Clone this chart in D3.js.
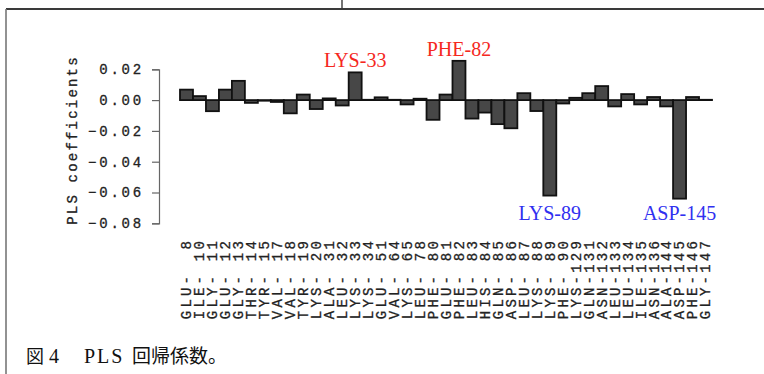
<!DOCTYPE html>
<html><head><meta charset="utf-8">
<script src="https://cdn.jsdelivr.net/npm/d3@7"></script>
<style>html,body{margin:0;padding:0;background:#fff;} svg{display:block}</style>
</head><body><svg id="c" width="764" height="374"></svg>
<script>
const residues = ["GLU-8","ILE-10","GLY-11","GLU-12","GLY-13","THR-14","TYR-15","VAL-17","VAL-18","TYR-19",
  "LYS-20","ALA-31","LEU-32","LYS-33","LYS-34","GLU-51","VAL-64","LYS-65","LEU-78","PHE-80",
  "GLU-81","PHE-82","LEU-83","HIS-84","GLN-85","ASP-86","LEU-87","LYS-88","LYS-89","PHE-90",
  "LYS-129","GLN-131","ASN-132","LEU-133","LEU-134","ILE-135","ASN-136","ALA-144","ASP-145","PHE-146","GLY-147"];
const coefficients = [0.0068,0.0026,-0.0072,0.0068,0.0125,-0.0018,-0.0004,-0.0012,-0.0086,0.0036,
  -0.0058,0.0011,-0.0035,0.0180,0.0002,0.0018,0.0002,-0.0028,0.0009,-0.0128,
  0.0036,0.0255,-0.0120,-0.0081,-0.0156,-0.0183,0.0045,-0.0071,-0.0620,-0.0022,
  0.0015,0.0045,0.0091,-0.0041,0.0039,-0.0028,0.0020,-0.0041,-0.0640,0.0020,0.0002];
const yTicks = [0.02, 0.00, -0.02, -0.04, -0.06, -0.08];
const positiveHighlights = ["LYS-33","PHE-82"];
const negativeHighlights = ["LYS-89","ASP-145"];
const yTitle = "PLS coefficients";
const captionParts = ["図", "4", "PLS", "回帰係数。"];

const svg = d3.select("#c");
const mono = "'Liberation Mono', 'DejaVu Sans Mono', monospace";
const serif = "'Liberation Serif', 'Times New Roman', serif";
const cjk = "'Noto Sans CJK JP', sans-serif";

// frame lines
svg.append("line").attr("x1",6).attr("x2",764).attr("y1",9).attr("y2",9).attr("stroke","#3a3a3a").attr("stroke-width",1.8);
svg.append("line").attr("x1",6).attr("x2",6).attr("y1",9).attr("y2",374).attr("stroke","#777").attr("stroke-width",1.6);
svg.append("line").attr("x1",342).attr("x2",342).attr("y1",0).attr("y2",9).attr("stroke","#3a3a3a").attr("stroke-width",1.4);

const x = d3.scaleBand().domain(residues).range([180, 712]).padding(0);
const y = d3.scaleLinear().domain([-0.08, 0.02]).range([223.3, 69.3]);

const monoText = (sel, ls) => sel.attr("font-family",mono).attr("font-size",14).attr("fill","#222")
  .attr("stroke","#222").attr("stroke-width",0.3).style("letter-spacing", ls + "px");

// y axis
const yAxis = d3.axisLeft(y).tickValues(yTicks).tickFormat(d3.format(".2f")).tickSize(7).tickPadding(8);
const ga = svg.append("g").attr("transform","translate(159,0)").call(yAxis);
ga.select(".domain").attr("stroke","#666").attr("stroke-width",1.2);
ga.selectAll(".tick line").attr("stroke","#666").attr("stroke-width",1.2);
monoText(ga.selectAll(".tick text"), 2.8);

// y title
monoText(svg.append("text").attr("transform","translate(72,140) rotate(-90)")
  .attr("text-anchor","middle").attr("dy","0.35em"), 2.2).text(yTitle);

// x labels
const fmt = r => { const p = r.split("-"); return p[0] + "-" + p[1].padStart(3, "\u00a0"); };
monoText(svg.append("g").selectAll("text").data(residues).join("text")
  .attr("transform", r => `translate(${x(r) + x.bandwidth()/2},238) rotate(-90)`)
  .attr("text-anchor","end").attr("dy","0.35em"), 3.2).text(fmt);

// bars
const data = residues.map((r,i) => ({r, v: coefficients[i]}));
svg.append("g").selectAll("rect").data(data).join("rect")
  .attr("x", d => x(d.r)).attr("width", x.bandwidth())
  .attr("y", d => y(Math.max(0, d.v)))
  .attr("height", d => Math.abs(y(d.v) - y(0)))
  .attr("fill","#474747").attr("stroke","#111").attr("stroke-width",1.8);

// annotations
const byName = new Map(data.map(d => [d.r, d.v]));
svg.append("g").selectAll("text").data(positiveHighlights).join("text")
  .attr("x", r => x(r) + x.bandwidth()/2).attr("y", r => y(byName.get(r)) - 5)
  .attr("text-anchor","middle").attr("font-family",serif).attr("font-size",20).attr("fill","#f5281e")
  .text(r => r);
svg.append("g").selectAll("text").data(negativeHighlights).join("text")
  .attr("x", r => x(r) + x.bandwidth()/2).attr("y", y(-0.08) - 3)
  .attr("text-anchor","middle").attr("font-family",serif).attr("font-size",20).attr("fill","#3030f0")
  .text(r => r);

// caption
const cap = svg.append("text").attr("y",363).attr("font-size",20).attr("fill","#111");
const capX = [26, 49, 84, 132];
const capFont = [cjk, serif, serif, cjk];
const capSize = [18, 20, 20, 19];
const capLS = [0, 0, 2, 0];
captionParts.forEach((t,i) => {
  cap.append("tspan").attr("x", capX[i]).attr("font-family", capFont[i]).attr("font-size", capSize[i])
    .style("letter-spacing", capLS[i] + "px").text(t);
});
</script></body></html>
